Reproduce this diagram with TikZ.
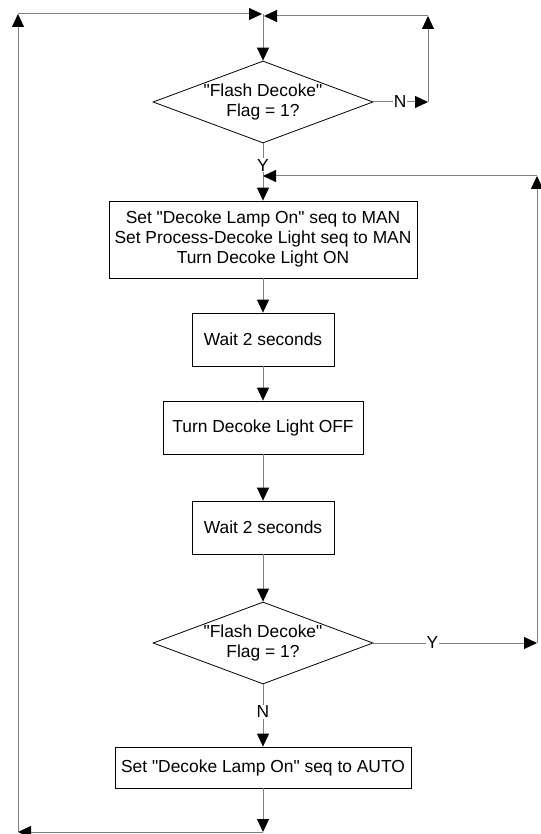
\documentclass[tikz,border=0pt]{standalone}
\usepackage{fontspec}
\newfontfamily\afont{Liberation Sans}
\usetikzlibrary{shapes.geometric,arrows.meta}
\begin{document}
\begin{tikzpicture}[x=1pt,y=-1pt,
  box/.style={draw=black,line width=0.8pt,rectangle,inner sep=0pt,align=center,font=\afont\fontsize{17.4}{20}\selectfont},
  dia/.style={draw=black,line width=0.8pt,diamond,inner sep=0pt,minimum width=220pt,minimum height=82pt},
  txt/.style={align=center,inner sep=0pt,font=\afont\fontsize{17.4}{20}\selectfont},
  conn/.style={draw=black!50,line width=1pt,-{Triangle[length=13pt,width=12pt,color=black]}},
  lbl/.style={fill=white,inner sep=1pt,font=\afont\fontsize{17.4}{20}\selectfont}
]
\useasboundingbox (0,0) rectangle (540,834);

\node[dia] (d1) at (263,102) {};
\node[txt] (t1) at (263,102) {"Flash Decoke"\\Flag = 1?};
\node[box,minimum width=308pt,minimum height=77pt] (b1) at (263,239.5) {Set "Decoke Lamp On" seq to MAN\\Set Process-Decoke Light seq to MAN\\Turn Decoke Light ON};
\node[box,minimum width=142pt,minimum height=53pt] (b2) at (263,339.5) {Wait 2 seconds};
\node[box,minimum width=200pt,minimum height=53pt] (b3) at (263,427.5) {Turn Decoke Light OFF};
\node[box,minimum width=142pt,minimum height=53pt] (b4) at (263,527.5) {Wait 2 seconds};
\node[dia] (d2) at (263,643) {};
\node[txt] (t2) at (263,643) {"Flash Decoke"\\Flag = 1?};
\node[box,minimum width=296pt,minimum height=41pt] (b5) at (263,767.5) {Set "Decoke Lamp On" seq to AUTO};

\coordinate (tl) at (18,14);
\coordinate (tc) at (263,14);
\coordinate (tr) at (428,16);
\coordinate (tc2) at (263,16);
\coordinate (nr) at (428,102);
\coordinate (ym) at (263,176);
\coordinate (yr) at (537,176);
\coordinate (yr2) at (537,643);
\coordinate (bc) at (263,832);
\coordinate (bl) at (18,832);

\draw[conn] (bl) -- (tl);
\draw[conn,shorten >=1pt] (tl) -- (tc);
\draw[conn,shorten >=1pt] (tr) -- (tc2);
\draw[conn] (tc) -- (d1.north);
\draw[conn] (d1.east) -- node[lbl,pos=0.49]{N} (nr);
\draw[conn] (nr) -- (tr);
\draw[conn] (d1.south) -- node[lbl,pos=0.38]{Y} (b1.north);
\draw[conn] (yr) -- (ym);
\draw[conn] (b1.south) -- (b2.north);
\draw[conn] (b2.south) -- (b3.north);
\draw[conn] (b3.south) -- (b4.north);
\draw[conn] (b4.south) -- (d2.north);
\draw[conn] (d2.east) -- node[lbl,pos=0.36]{Y} (yr2);
\draw[conn] (yr2) -- (yr);
\draw[conn] (d2.south) -- node[lbl,pos=0.44]{N} (b5.north);
\draw[conn] (b5.south) -- (bc);
\draw[conn] (bc) -- (bl);
\end{tikzpicture}
\end{document}
